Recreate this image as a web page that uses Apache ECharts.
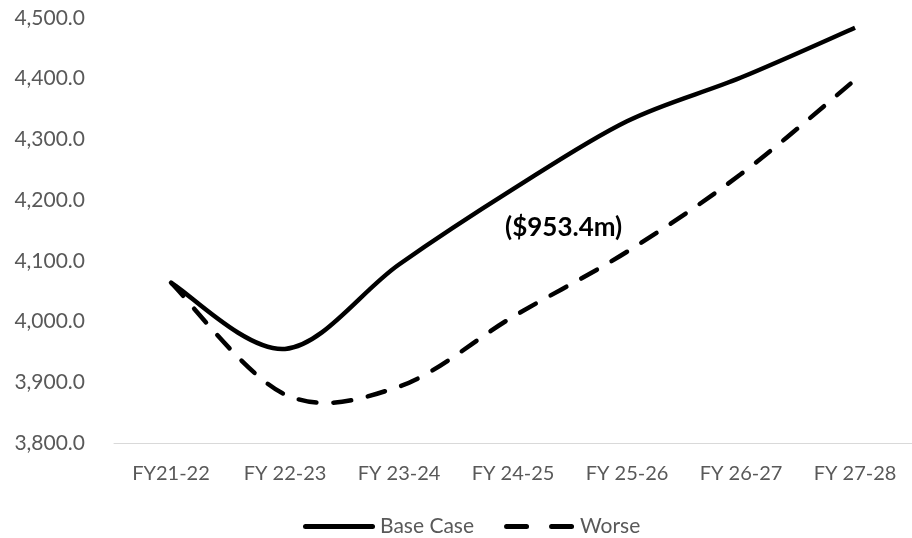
<!DOCTYPE html>
<html>
<head>
<meta charset="utf-8">
<script src="https://cdn.jsdelivr.net/npm/echarts@6/dist/echarts.min.js"></script>
<style>
  html, body { margin: 0; padding: 0; background: #fff; }
  #chart { width: 912px; height: 538px; }
</style>
</head>
<body>
<div id="chart"></div>
<script>
// Fiscal years on the category axis
const years = ['FY21-22', 'FY 22-23', 'FY 23-24', 'FY 24-25', 'FY 25-26', 'FY 26-27', 'FY 27-28'];
// Projected values per scenario
const baseCase = [4064, 3955, 4094, 4218, 4330, 4402, 4484];
const worse = [4064, 3880, 3893, 4008, 4115, 4243, 4398];
// Value axis range
const yMin = 3800, yMax = 4500, yStep = 100;
const gapLabel = '($953.4m)';

const FONT = 'Lato, "Open Sans", sans-serif';
const GREY = '#595959';

// Smooth curve through every point of the series (cardinal spline, tension 1/6),
// with points mapped through the chart's own axes.
function smoothPath(params, api) {
  if (params.dataIndex !== 0) return null;
  const n = params.dataInsideLength;
  const pts = [];
  for (let i = 0; i < n; i++) {
    pts.push(api.coord([api.value(0, i), api.value(1, i)]));
  }
  let d = 'M' + pts[0][0] + ',' + pts[0][1];
  for (let i = 0; i < n - 1; i++) {
    const p0 = pts[Math.max(i - 1, 0)];
    const p1 = pts[i];
    const p2 = pts[i + 1];
    const p3 = pts[Math.min(i + 2, n - 1)];
    const c1 = [p1[0] + (p2[0] - p0[0]) / 6, p1[1] + (p2[1] - p0[1]) / 6];
    const c2 = [p2[0] - (p3[0] - p1[0]) / 6, p2[1] - (p3[1] - p1[1]) / 6];
    d += ' C' + c1[0] + ',' + c1[1] + ' ' + c2[0] + ',' + c2[1] + ' ' + p2[0] + ',' + p2[1];
  }
  return d;
}

function lineSeries(name, values, dash) {
  return {
    name: name,
    type: 'custom',
    data: values.map((v, i) => [i, v]),
    encode: { x: 0, y: 1 },
    itemStyle: { color: '#000' },
    clip: false,
    renderItem: (params, api) => {
      const d = smoothPath(params, api);
      if (!d) return null;
      return {
        type: 'path',
        shape: { pathData: d },
        style: {
          fill: null,
          stroke: '#000',
          lineWidth: 4.5,
          lineDash: dash,
          lineCap: dash ? 'round' : 'butt',
          lineJoin: 'round'
        }
      };
    }
  };
}

const chart = echarts.init(document.getElementById('chart'));
chart.setOption({
  animation: false,
  backgroundColor: '#ffffff',
  grid: { left: 114, right: -11, top: 18, bottom: 95, containLabel: false },
  xAxis: {
    type: 'category',
    data: years,
    boundaryGap: true,
    axisLine: { lineStyle: { color: '#d9d9d9', width: 1 } },
    axisTick: { show: false },
    axisLabel: { color: GREY, fontSize: 20, fontFamily: FONT, margin: 21 }
  },
  yAxis: {
    type: 'value',
    min: yMin, max: yMax, interval: yStep,
    axisLine: { show: false },
    axisTick: { show: false },
    splitLine: { show: false },
    axisLabel: {
      color: GREY, fontSize: 21, fontFamily: FONT, margin: 29,
      formatter: v => v.toLocaleString('en-US', { minimumFractionDigits: 1, maximumFractionDigits: 1 })
    }
  },
  legend: {
    top: 511,
    left: 298,
    itemWidth: 72,
    itemHeight: 5,
    itemGap: 30,
    textStyle: { color: GREY, fontSize: 21, fontFamily: FONT },
    data: [
      { name: 'Base Case', icon: 'path://M2.5,0H69.5A2.5,2.5,0,0,1,69.5,5H2.5A2.5,2.5,0,0,1,2.5,0Z', itemStyle: { color: '#000' } },
      { name: 'Worse', icon: 'path://M2.5,0H22.5A2.5,2.5,0,0,1,22.5,5H2.5A2.5,2.5,0,0,1,2.5,0Z M47.5,0H67.5A2.5,2.5,0,0,1,67.5,5H47.5A2.5,2.5,0,0,1,47.5,0Z', itemStyle: { color: '#000' } }
    ]
  },
  series: [
    lineSeries('Base Case', baseCase, null),
    lineSeries('Worse', worse, [18, 17])
  ],
  graphic: [
    {
      type: 'text', left: 505, top: 215,
      style: { text: gapLabel, fill: '#000', fontSize: 26, fontWeight: 'bold', fontFamily: FONT }
    }
  ]
});
</script>
</body>
</html>
